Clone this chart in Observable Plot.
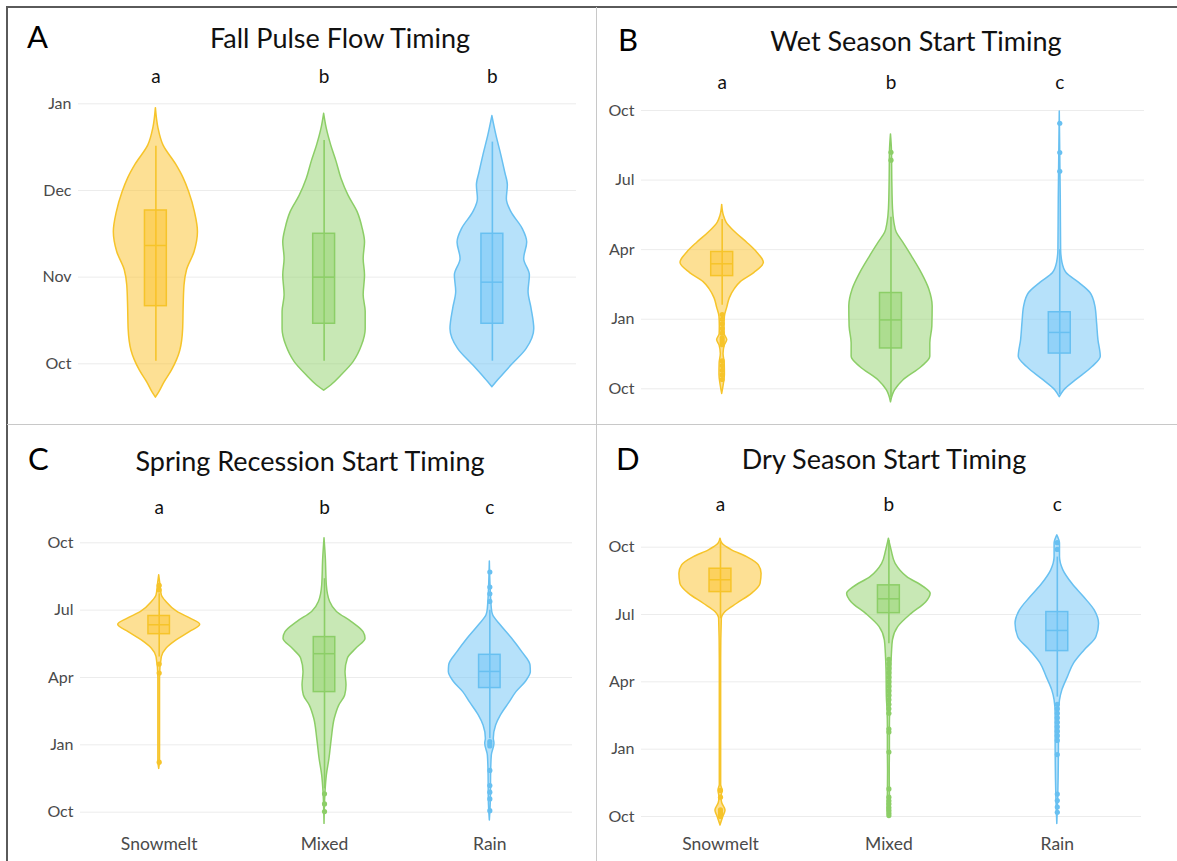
<!DOCTYPE html>
<html>
<head>
<meta charset="utf-8">
<script src="https://cdn.jsdelivr.net/npm/d3@7"></script>
<script src="https://cdn.jsdelivr.net/npm/@observablehq/plot@0.6"></script>
<style>
  html, body { margin: 0; padding: 0; background: #fff; }
  #root { position: relative; width: 1177px; height: 861px; overflow: hidden; font-family: Lato, "Open Sans", sans-serif; }
  .plotbox { position: absolute; }
  .plotbox svg { display: block; background: transparent; }
  .letter { position: absolute; font-size: 31px; line-height: 31px; color: #000; }
  .title { position: absolute; font-size: 27px; line-height: 27px; color: #111; white-space: nowrap; transform: translateX(-50%); }
  .line { position: absolute; }
</style>
</head>
<body>
<div id="root"></div>
<script>
// ---------- data ----------
const categories = ["Snowmelt", "Mixed", "Rain"];
const fallTicks = [0, 1, 2, 3];
const fallTickLabels = ["Oct", "Nov", "Dec", "Jan"];
const yearTicks = [0, 3, 6, 9, 12];
const yearTickLabels = ["Oct", "Jan", "Apr", "Jul", "Oct"];
const panelTitles = ["Fall Pulse Flow Timing", "Wet Season Start Timing", "Spring Recession Start Timing", "Dry Season Start Timing"];
const panelLetters = ["A", "B", "C", "D"];
const sigA = ["a", "b", "b"];
const sigB = ["a", "b", "c"];
const sigC = ["a", "b", "c"];
const sigD = ["a", "b", "c"];

// violin profiles: [months since Oct 1, half width (fraction of category spacing)]
const fallSnowmelt = [[-0.39,0],[-0.33,0.02],[-0.22,0.05],[-0.08,0.095],[0.15,0.145],[0.40,0.162],[0.65,0.165],[0.90,0.17],[1.08,0.185],[1.29,0.23],[1.52,0.25],[1.75,0.232],[1.98,0.198],[2.14,0.165],[2.30,0.12],[2.52,0.045],[2.72,0.015],[2.95,0]];
const fallMixed = [[-0.31,0],[-0.25,0.042],[-0.135,0.103],[0.02,0.175],[0.21,0.225],[0.40,0.247],[0.60,0.247],[0.79,0.235],[1.02,0.243],[1.21,0.235],[1.40,0.243],[1.56,0.229],[1.75,0.199],[1.94,0.145],[2.135,0.103],[2.33,0.074],[2.52,0.042],[2.71,0.016],[2.885,0]];
const fallRain = [[-0.27,0],[-0.17,0.044],[-0.02,0.113],[0.17,0.203],[0.40,0.249],[0.635,0.233],[0.83,0.215],[1.02,0.223],[1.21,0.189],[1.40,0.207],[1.56,0.179],[1.75,0.113],[1.90,0.086],[2.06,0.092],[2.21,0.076],[2.40,0.054],[2.635,0.024],[2.858,0]];

const wetSnowmelt = [[-0.22,0],[0.2,0.01],[0.6,0.016],[1.1,0.015],[1.5,0.008],[1.85,0.015],[2.1,0.03],[2.35,0.015],[2.7,0.014],[3.1,0.016],[3.5,0.03],[3.9,0.045],[4.3,0.075],[4.6,0.11],[4.99,0.19],[5.43,0.247],[5.87,0.208],[6.30,0.148],[6.74,0.079],[7.17,0.026],[7.46,0.01],[7.93,0]];
const wetMixed = [[-0.58,0],[-0.07,0.024],[0.36,0.073],[0.94,0.182],[1.38,0.233],[1.96,0.233],[2.68,0.245],[3.55,0.247],[4.28,0.227],[4.99,0.182],[5.72,0.123],[6.30,0.073],[6.74,0.034],[7.17,0.02],[7.75,0.012],[8.9,0.008],[10.22,0.006],[10.97,0]];
const wetRain = [[-0.36,0],[-0.07,0.026],[0.36,0.095],[0.94,0.194],[1.38,0.243],[2.10,0.229],[2.83,0.221],[3.55,0.211],[4.13,0.182],[4.57,0.115],[4.99,0.04],[5.43,0.016],[6.01,0.008],[8.19,0.006],[11.96,0]];

const springSnowmelt = [[1.93,0],[2.3,0.005],[4.0,0.005],[6.0,0.005],[6.91,0.016],[7.28,0.044],[7.65,0.105],[8.02,0.185],[8.35,0.248],[8.62,0.19],[8.92,0.11],[9.36,0.044],[9.66,0.016],[10.1,0.008],[10.55,0]];
const springMixed = [[-0.52,0],[0.89,0.006],[1.63,0.014],[2.38,0.03],[3.27,0.044],[4.16,0.062],[4.75,0.089],[5.2,0.125],[5.65,0.133],[6.24,0.127],[6.84,0.141],[7.28,0.192],[7.73,0.248],[8.02,0.236],[8.47,0.165],[8.92,0.075],[9.36,0.034],[10.1,0.014],[11.29,0.008],[12.2,0]];
const springRain = [[-0.37,0],[0.5,0.006],[1.8,0.008],[2.53,0.012],[3.05,0.028],[3.27,0.024],[3.86,0.038],[4.31,0.067],[4.9,0.121],[5.35,0.161],[5.79,0.216],[6.24,0.248],[6.54,0.246],[7.13,0.196],[7.73,0.135],[8.32,0.067],[8.77,0.02],[9.06,0.012],[11.17,0]];

const drySnowmelt = [[-0.4,0],[-0.03,0.016],[0.27,0.03],[0.6,0.01],[0.86,0.006],[1.16,0.012],[1.4,0.004],[4.0,0.004],[7.0,0.004],[8.81,0.008],[9.11,0.03],[9.48,0.099],[9.93,0.188],[10.37,0.238],[10.82,0.244],[11.19,0.228],[11.56,0.158],[11.86,0.069],[12.15,0.012],[12.38,0]];
const dryMixed = [[-0.03,0],[0.3,0.008],[1.0,0.006],[2.0,0.005],[3.0,0.006],[4.0,0.006],[4.73,0.008],[5.32,0.012],[6.51,0.014],[7.25,0.018],[7.85,0.024],[8.44,0.055],[9.03,0.135],[9.55,0.222],[9.93,0.248],[10.22,0.208],[10.67,0.109],[11.26,0.04],[11.86,0.016],[12.38,0]];
const dryRain = [[-0.33,0],[1.0,0.006],[3.54,0.01],[4.58,0.01],[5.17,0.016],[5.62,0.03],[6.21,0.063],[6.81,0.099],[7.4,0.162],[7.99,0.232],[8.59,0.248],[9.18,0.222],[9.78,0.158],[10.37,0.089],[10.97,0.036],[11.56,0.016],[12.15,0.016],[12.53,0]];

// box stats: [q1, median, q3, whisker low, whisker high]
const boxesA = [[0.665,1.365,1.769,0.03,2.51],[0.462,1.0,1.5,0.03,2.577],[0.462,0.942,1.5,0.03,2.558]];
const boxesB = [[4.86,5.39,5.9,3.6,7.3],[1.74,2.97,4.13,-0.4,7.4],[1.52,2.43,3.3,-0.25,6.0]];
const boxesC = [[7.93,8.35,8.74,6.91,9.73],[5.35,7.06,7.8,1.04,10.4],[5.53,6.27,7.01,3.27,8.99]];
const boxesD = [[10.0,10.55,11.04,8.81,12.23],[9.06,9.7,10.3,7.7,12.3],[7.37,8.29,9.11,5.32,11.56]];

// outliers
const outliersA = [[], [], []];
const outliersB = [[3.2, 3.0, 2.8, 2.6, 2.4, 2.2, 2.1, 2.0, 1.9, 1.2, 1.0, 0.8, 0.6, 0.4], [10.2, 9.86], [11.45, 10.19, 9.38]];
const outliersC = [[10.1, 9.9, 6.6, 6.2, 2.23], [0.82, 0.37, 0.03], [10.7, 10.03, 9.73, 9.39, 3.15, 3.05, 2.95, 1.86, 1.19, 0.89, 0.59, 0.07]];
const outliersD = [[1.16, 0.86, 0.3, 0.2, 0.1, 0.0],
                   [7.0, 6.8, 6.6, 6.4, 6.2, 6.0, 5.8, 5.6, 5.4, 5.2, 5.0, 4.8, 4.6, 3.9, 3.76, 2.87, 1.23, 0.86, 0.7, 0.56, 0.4, 0.27, 0.15, 0.04],
                   [12.2, 11.9, 5.0, 4.8, 4.6, 4.4, 4.2, 4.0, 3.8, 3.6, 3.39, 2.76, 1.0, 0.71, 0.42, 0.19]];

// ---------- styles ----------
const baseColors = ["#FCC22A", "#91D16B", "#6DC3F5"];
const strokeColors = ["#F6C42A", "#8CCE67", "#68C0F1"];
const boxHalf = 0.065;

function drawPanel(cfg) {
  const {violins, boxes, outliers, sig, ticks, tickLabels, width, height, ml, mr, mb, xDomain, yRange, showX, sigDy} = cfg;
  const marks = [
    Plot.gridY({ticks: ticks, stroke: "#ececec", strokeOpacity: 1, strokeWidth: 1}),
    Plot.axisY({ticks: ticks, tickSize: 0, tickPadding: 7, tickFormat: d => tickLabels[ticks.indexOf(d)], fontSize: 16, fill: "#4a4a4a", label: null})
  ];
  if (showX) {
    marks.push(Plot.axisX({ticks: [0, 1, 2], tickSize: 0, tickPadding: 9, tickFormat: i => categories[i], fontSize: 17.5, fill: "#4a4a4a", label: null}));
  }
  violins.forEach((prof, i) => {
    marks.push(Plot.areaX(prof, {
      y: d => d[0], x1: d => i - d[1], x2: d => i + d[1],
      fill: baseColors[i], fillOpacity: 0.5,
      stroke: strokeColors[i], strokeWidth: 1.5, strokeLinejoin: "round",
      curve: "monotone-y"
    }));
  });
  boxes.forEach((b, i) => {
    marks.push(Plot.ruleX([b], {x: () => i, y1: d => d[3], y2: d => d[4], stroke: strokeColors[i], strokeWidth: 1.6}));
    marks.push(Plot.rect([b], {x1: () => i - boxHalf, x2: () => i + boxHalf, y1: d => d[0], y2: d => d[2], fill: baseColors[i], fillOpacity: 0.5, stroke: strokeColors[i], strokeWidth: 1.5}));
    marks.push(Plot.ruleY([b], {y: d => d[1], x1: () => i - boxHalf, x2: () => i + boxHalf, stroke: strokeColors[i], strokeWidth: 1.5}));
  });
  outliers.forEach((o, i) => {
    marks.push(Plot.dot(o, {x: () => i, y: d => d, r: 2.6, fill: strokeColors[i], stroke: "none"}));
  });
  marks.push(Plot.text(sig, {x: (d, k) => k, text: d => d, frameAnchor: "top", dy: sigDy, fontSize: 19, fill: "#111"}));
  return Plot.plot({
    width, height,
    marginTop: 0, marginLeft: ml, marginRight: mr, marginBottom: mb,
    style: {fontFamily: "Lato, 'Open Sans', sans-serif", fontSize: "16px", background: "transparent", overflow: "visible"},
    x: showX ? {domain: xDomain} : {domain: xDomain, axis: null},
    y: {domain: [ticks[0], ticks[ticks.length - 1]], range: yRange},
    marks
  });
}

const root = document.getElementById("root");
const layout = [
  {left: 7, top: 55, width: 590, height: 370, ml: 71, mr: 21, mb: 0, xDomain: [-0.46, 2.5], yRange: [308.3, 48.3], showX: false, sigDy: 14,
   violins: [fallSnowmelt, fallMixed, fallRain], boxes: boxesA, outliers: outliersA, sig: sigA, ticks: fallTicks, tickLabels: fallTickLabels,
   letter: {x: 27, y: 21}, title: {x: 340, y: 24}},
  {left: 597, top: 55, width: 580, height: 370, ml: 44, mr: 33, mb: 0, xDomain: [-0.478, 2.502], yRange: [333.3, 55], showX: false, sigDy: 20,
   violins: [wetSnowmelt, wetMixed, wetRain], boxes: boxesB, outliers: outliersB, sig: sigB, ticks: yearTicks, tickLabels: yearTickLabels,
   letter: {x: 618, y: 24}, title: {x: 916, y: 27}},
  {left: 7, top: 480, width: 590, height: 381, ml: 73, mr: 25, mb: 33, xDomain: [-0.476, 2.5], yRange: [331.7, 62.3], showX: true, sigDy: 20,
   violins: [springSnowmelt, springMixed, springRain], boxes: boxesC, outliers: outliersC, sig: sigC, ticks: yearTicks, tickLabels: yearTickLabels,
   letter: {x: 28, y: 443}, title: {x: 310, y: 447}},
  {left: 597, top: 480, width: 580, height: 381, ml: 44, mr: 36, mb: 33, xDomain: [-0.469, 2.5], yRange: [336, 66.7], showX: true, sigDy: 17,
   violins: [drySnowmelt, dryMixed, dryRain], boxes: boxesD, outliers: outliersD, sig: sigD, ticks: yearTicks, tickLabels: yearTickLabels,
   letter: {x: 616, y: 443}, title: {x: 884, y: 445}}
];

layout.forEach((p, k) => {
  const box = document.createElement("div");
  box.className = "plotbox";
  box.style.left = p.left + "px";
  box.style.top = p.top + "px";
  box.style.width = p.width + "px";
  box.style.height = p.height + "px";
  box.appendChild(drawPanel(p));
  root.appendChild(box);

  const letter = document.createElement("div");
  letter.className = "letter";
  letter.textContent = panelLetters[k];
  letter.style.left = p.letter.x + "px";
  letter.style.top = p.letter.y + "px";
  root.appendChild(letter);

  const title = document.createElement("div");
  title.className = "title";
  title.textContent = panelTitles[k];
  title.style.left = p.title.x + "px";
  title.style.top = p.title.y + "px";
  root.appendChild(title);
});

// panel frame lines
function addLine(x, y, w, h, color) {
  const d = document.createElement("div");
  d.className = "line";
  d.style.left = x + "px"; d.style.top = y + "px";
  d.style.width = w + "px"; d.style.height = h + "px";
  d.style.background = color;
  root.appendChild(d);
}
addLine(6, 6, 2, 855, "#5a5a5a");
addLine(6, 6, 1171, 2, "#5a5a5a");
addLine(596, 7, 1, 854, "#c8c8c8");
addLine(7, 424, 1170, 1, "#c8c8c8");
</script>
</body>
</html>
